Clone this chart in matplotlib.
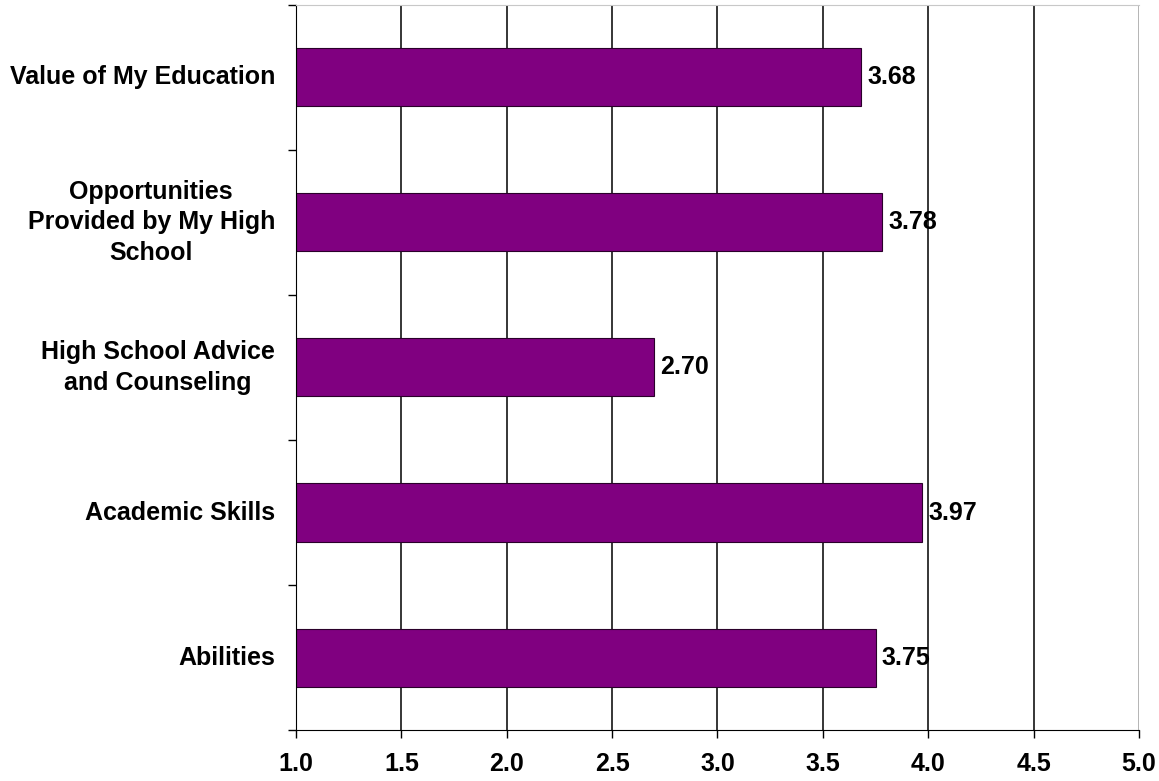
import matplotlib.pyplot as plt
import numpy as np

# categories listed top to bottom
categories = ["Value of My Education",
              "Opportunities\nProvided by My High\nSchool",
              "High School Advice\nand Counseling",
              "Academic Skills",
              "Abilities"]
scores = [3.68, 3.78, 2.70, 3.97, 3.75]
xticks = [1.0, 1.5, 2.0, 2.5, 3.0, 3.5, 4.0, 4.5, 5.0]

plt.rcParams['font.family'] = ['Liberation Sans', 'DejaVu Sans']
plt.rcParams['font.weight'] = 'bold'
FS = 18

fig = plt.figure(figsize=(11.59, 7.81), dpi=100)
ax = fig.add_axes([0.2554, 0.0653, 0.7273, 0.9283])

n = len(categories)
ypos = np.arange(n)[::-1]

# vertical grid lines behind bars
for xv in xticks[1:-1]:
    ax.axvline(xv, color='black', lw=1.1, zorder=0)
ax.axvline(xticks[-1], color='#a0a0a0', lw=1.1, zorder=0)

ax.barh(ypos, np.array(scores) - 1.0, left=1.0, height=0.4,
        color='#800080', edgecolor='#2a002a', lw=0.8, zorder=2)

for y, v in zip(ypos, scores):
    ax.text(v + 0.03, y, f"{v:.2f}", va='center', ha='left',
            fontsize=FS, fontweight='bold', color='black', zorder=3)

ax.set_xlim(1.0, 5.0)
ax.set_ylim(-0.5, n - 0.5)
ax.set_xticks(xticks)
ax.set_xticklabels([f"{t:.1f}" for t in xticks], fontsize=FS, fontweight='bold')

# category labels centered on bars, ticks at band edges
ax.set_yticks(np.arange(-0.5, n, 1.0))
ax.set_yticklabels([])
for y, lab in zip(ypos, categories):
    ax.text(-0.025, y, lab, transform=ax.get_yaxis_transform(),
            ha='right', va='center', fontsize=FS, fontweight='bold',
            multialignment='center', linespacing=1.32)

ax.tick_params(axis='x', length=6, width=1, color='black', pad=10)
ax.tick_params(axis='y', length=6, width=1, color='black')

ax.spines['top'].set_color('#c8c8c8')
ax.spines['right'].set_visible(False)
ax.spines['left'].set_color('black')
ax.spines['bottom'].set_color('black')

fig.savefig('out.png', dpi=100)
